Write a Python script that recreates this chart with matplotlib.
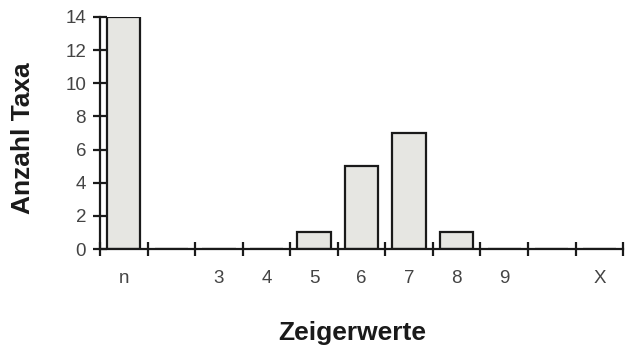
import matplotlib
matplotlib.use("Agg")
import matplotlib.pyplot as plt
import numpy as np

categories = ["n", "", "3", "4", "5", "6", "7", "8", "9", "", "X"]
counts = [14, 0, 0, 0, 1, 5, 7, 1, 0, 0, 0]
yticks = [0, 2, 4, 6, 8, 10, 12, 14]

fig = plt.figure(figsize=(6.25, 3.49), dpi=100)
ax = fig.add_axes([0.16, 0.2865, 0.837, 0.665])

x = np.arange(len(categories)) + 0.5
ax.bar(x, counts, width=0.7, color="#e6e6e2", edgecolor="#1a1a1a", linewidth=1.6, zorder=3)

ax.set_xlim(0, len(categories))
ax.set_ylim(0, 14)
for s in ["top", "right"]:
    ax.spines[s].set_visible(False)
for s in ["left", "bottom"]:
    ax.spines[s].set_linewidth(1.6)
    ax.spines[s].set_color("#1a1a1a")
    ax.spines[s].set_zorder(4)

ax.set_xticks(x)
ax.set_xticklabels(categories)
ax.set_xticks(np.arange(len(categories) + 1), minor=True)
ax.tick_params(axis="x", which="major", length=0, pad=15, labelsize=13.5, labelcolor="#444444")
ax.tick_params(axis="x", which="minor", direction="inout", length=10, width=1.6, color="#1a1a1a")
ax.set_yticks(yticks)
ax.tick_params(axis="y", direction="inout", length=10, width=1.6, color="#1a1a1a", pad=5,
               labelsize=13.5, labelcolor="#444444")

for lab in ax.get_xticklabels() + ax.get_yticklabels():
    lab.set_family("Liberation Sans")

fig.text(0.563, 0.047, "Zeigerwerte", ha="center", va="center", fontsize=19,
         fontweight="bold", family="Liberation Sans", color="#1a1a1a")
fig.text(0.037, 0.605, "Anzahl Taxa", ha="center", va="center", rotation=90, fontsize=19,
         fontweight="bold", family="Liberation Sans", color="#1a1a1a")

fig.savefig("out.png", dpi=100)
